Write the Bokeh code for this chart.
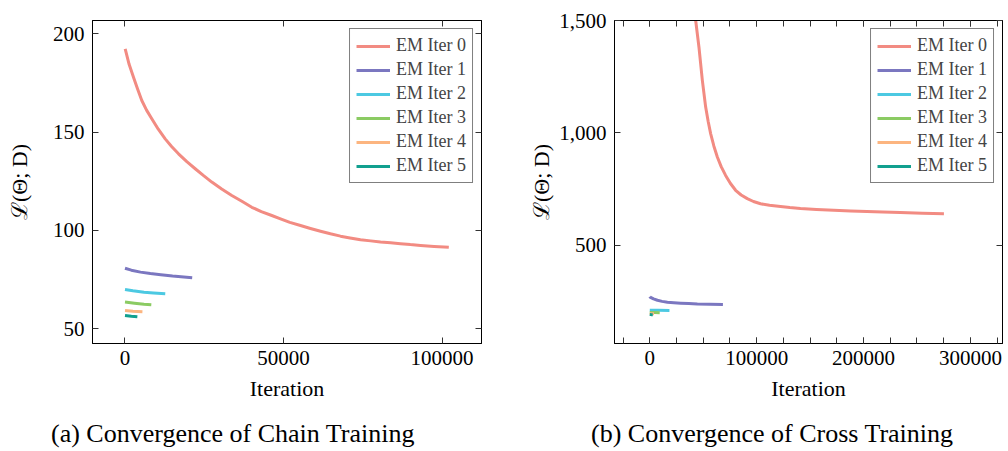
from bokeh.plotting import figure
from bokeh.layouts import row, column
from bokeh.models import (Range1d, FixedTicker, LinearAxis, NumeralTickFormatter,
                          Legend, Div)
from bokeh.embed import file_html
from bokeh.resources import INLINE

# ---------------- data ----------------
series_names = ["EM Iter 0", "EM Iter 1", "EM Iter 2", "EM Iter 3", "EM Iter 4", "EM Iter 5"]
colors = ["#F28B82", "#7B77C0", "#4CC9E2", "#8BCB63", "#FCB580", "#12A08F"]
captions = ["(a) Convergence of Chain Training", "(b) Convergence of Cross Training"]

# (a) chain training
chain_x0 = [60, 1300, 2680, 4000, 5300, 6800, 8450, 10500, 12680, 14700, 16880, 19500, 22150, 24700,
            27380, 30500, 33690, 37000, 40000, 43000, 46310, 49060, 52000, 55360, 58500, 61670,
            64800, 67980, 71000, 74290, 77500, 80600, 83800, 86910, 90000, 93220, 97500, 102150]
chain_y0 = [192.4, 184.5, 177.9, 171.8, 166.1, 161.2, 156.8, 151.5, 146.6, 142.7, 139.0, 135.0, 131.4,
            128.0, 124.6, 121.1, 117.8, 114.7, 111.8, 109.6, 107.6, 105.9, 104.1, 102.5, 101.0, 99.6,
            98.3, 97.1, 96.2, 95.3, 94.7, 94.1, 93.7, 93.3, 92.8, 92.4, 91.9, 91.5]
chain_x1 = [0, 2000, 4900, 8000, 11300, 15000, 21200]
chain_y1 = [80.8, 79.8, 78.8, 78.1, 77.5, 76.8, 75.9]
chain_x2 = [0, 2500, 6000, 9000, 12700]
chain_y2 = [70.0, 69.3, 68.6, 68.2, 67.8]
chain_x3 = [0, 3000, 6000, 8300]
chain_y3 = [63.6, 63.0, 62.5, 62.2]
chain_x4 = [0, 2500, 5500]
chain_y4 = [59.3, 58.9, 58.6]
chain_x5 = [0, 2000, 3900]
chain_y5 = [56.8, 56.4, 56.1]

# (b) cross training
cross_x0 = [39500, 42950, 46030, 49210, 52290, 54600, 57000, 60000, 63200, 66800, 70960, 75500,
            80300, 85500, 91220, 97000, 103640, 112000, 122320, 131000, 141000, 156000, 172100,
            188000, 203200, 218000, 234400, 255000, 275200]
cross_y0 = [1640, 1500, 1381, 1233, 1115, 1052, 996, 941, 893, 850, 811, 775,
            745, 724, 708, 695, 685, 678, 673, 668, 664, 660, 656,
            653, 651, 648, 646, 643, 641]
cross_x1 = [0, 280, 3500, 7190, 11500, 16530, 22500, 28950, 36500, 44540, 56000, 68440]
cross_y1 = [272, 270, 262, 256, 251, 247, 245, 243, 241, 239, 238, 237]
cross_x2 = [0, 8000, 18400]
cross_y2 = [212, 211, 210]
cross_x3 = [0, 4500, 9300]
cross_y3 = [202, 201, 200]
cross_x4 = [0, 2000, 4000]
cross_y4 = [197, 196, 196]
cross_x5 = [0, 1400, 2800]
cross_y5 = [193, 192, 192]

chain_xticks = [0, 50000, 100000]
chain_yticks = [50, 100, 150, 200]
cross_xticks = [0, 100000, 200000, 300000]
cross_xminor = [25000 * i for i in range(-1, 14)]
cross_yticks = [500, 1000, 1500]

FONT = "Liberation Serif"


def style_axis(ax, ticker, fmt=None, labels=True):
    ax.ticker = ticker
    if fmt is not None:
        ax.formatter = fmt
    ax.axis_line_color = "black"
    ax.major_tick_line_color = "#333333"
    ax.minor_tick_line_color = "#333333"
    ax.major_tick_in = 6
    ax.major_tick_out = 0
    ax.minor_tick_in = 6
    ax.minor_tick_out = 0
    ax.major_label_text_font = FONT
    ax.major_label_text_color = "black"
    if labels:
        ax.major_label_text_font_size = "21px"
    else:
        ax.major_label_text_font_size = "1px"
        ax.major_label_text_color = None
        ax.major_label_standoff = 0


def make_fig(xs, ys, xr, yr, xticker, yticker, yfmt, left_border, right_border, ylab_standoff):
    p = figure(width=504, height=412, output_backend="svg", toolbar_location=None,
               x_range=xr, y_range=yr,
               min_border_left=left_border, min_border_right=right_border,
               min_border_top=20, min_border_bottom=69)
    p.xgrid.visible = False
    p.ygrid.visible = False
    p.outline_line_color = "black"
    p.background_fill_color = "white"
    p.border_fill_color = "white"

    renderers = []
    for x, y, c, n in zip(xs, ys, colors, series_names):
        r = p.line(x, y, line_color=c, line_width=3, line_join="round", line_cap="butt")
        renderers.append((n, [r]))

    style_axis(p.xaxis[0], xticker, NumeralTickFormatter(format="0"))
    style_axis(p.yaxis[0], yticker, yfmt)
    p.xaxis[0].major_label_standoff = 7
    p.yaxis[0].major_label_standoff = 8
    p.xaxis[0].axis_label = "Iteration"
    p.yaxis[0].axis_label = "ℒ(Θ; D)"
    for ax in (p.xaxis[0], p.yaxis[0]):
        ax.axis_label_text_font = FONT
        ax.axis_label_text_font_style = "normal"
        ax.axis_label_text_font_size = "22px"
        ax.axis_label_text_color = "black"
    p.xaxis[0].axis_label_standoff = 8
    p.yaxis[0].axis_label_standoff = ylab_standoff

    top = LinearAxis()
    style_axis(top, xticker, labels=False)
    p.add_layout(top, "above")
    right = LinearAxis()
    style_axis(right, yticker, labels=False)
    p.add_layout(right, "right")

    legend = Legend(items=renderers, location="top_right")
    legend.border_line_color = "black"
    legend.border_line_width = 1
    legend.background_fill_alpha = 1
    legend.label_text_font = FONT
    legend.label_text_font_size = "18px"
    legend.glyph_width = 34
    legend.glyph_height = 20
    legend.label_height = 20
    legend.spacing = 3
    legend.padding = 6
    legend.margin = 8
    legend.label_standoff = 6
    p.add_layout(legend, "center")
    return p


def make_caption(text, pad_left):
    return Div(text=text, width=504, height=39,
               styles={"font-family": FONT, "font-size": "26px", "line-height": "30px",
                       "color": "black", "padding-left": f"{pad_left}px", "padding-top": "2px",
                       "white-space": "nowrap", "box-sizing": "border-box",
                       "overflow": "visible"})


p1 = make_fig([chain_x0, chain_x1, chain_x2, chain_x3, chain_x4, chain_x5],
              [chain_y0, chain_y1, chain_y2, chain_y3, chain_y4, chain_y5],
              Range1d(-10250, 112460), Range1d(42.5, 206.8),
              FixedTicker(ticks=chain_xticks), FixedTicker(ticks=chain_yticks),
              NumeralTickFormatter(format="0"), 92, 23, 18)

p2 = make_fig([cross_x0, cross_x1, cross_x2, cross_x3, cross_x4, cross_x5],
              [cross_y0, cross_y1, cross_y2, cross_y3, cross_y4, cross_y5],
              Range1d(-33000, 330000), Range1d(63.6, 1500),
              FixedTicker(ticks=cross_xticks, minor_ticks=cross_xminor), FixedTicker(ticks=cross_yticks),
              NumeralTickFormatter(format="0,0"), 110, 6, 2)

layout = column(row(p1, p2), row(make_caption(captions[0], 46), make_caption(captions[1], 72)))
open("out.html", "w").write(file_html(layout, INLINE))
